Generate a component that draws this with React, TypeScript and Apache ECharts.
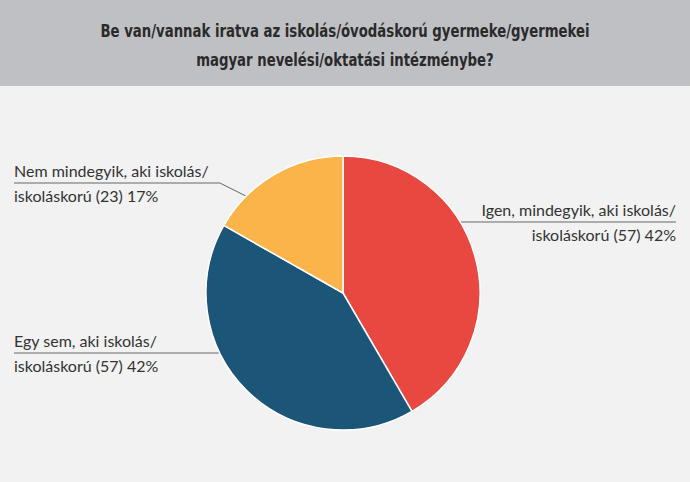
import React, { useEffect, useRef } from "react";
import * as echarts from "echarts";

const titleLines = [
  "Be van/vannak iratva az iskolás/óvodáskorú gyermeke/gyermekei",
  "magyar nevelési/oktatási intézménybe?",
];
const categories = [
  "Igen, mindegyik, aki iskolás/\niskoláskorú",
  "Egy sem, aki iskolás/\niskoláskorú",
  "Nem mindegyik, aki iskolás/\niskoláskorú",
];
const values = [57, 57, 23];
const colors = ["#e8483f", "#1b5578", "#fbb44a"];

// label layout (positions, not data)
const CX = 343;
const CY = 293;
const R = 137;
const labelLineY = [222, 353, 183];
const labelAnchorAngle = [58.8, 244, 315]; // degrees clockwise from top

export default function App() {
  const ref = useRef<HTMLDivElement>(null);
  useEffect(() => {
    if (!ref.current) return;
    const chart = echarts.init(ref.current, null, { renderer: "svg" });
    chart.setOption({
      animation: false,
      backgroundColor: "#f2f2f2",
      graphic: [
        {
          type: "rect",
          shape: { x: 0, y: 0, width: 690, height: 86 },
          style: { fill: "#bfc0c3" },
          z: -1,
        },
        {
          type: "text",
          x: 345,
          y: 45,
          scaleX: 0.82,
          style: {
            text: titleLines.join("\n"),
            fill: "#2a2a2a",
            font: "bold 18px 'DejaVu Sans Condensed', 'Liberation Sans Narrow', sans-serif",
            lineHeight: 29,
            align: "center",
            verticalAlign: "middle",
          },
        },
      ],
      series: [
        {
          type: "pie",
          center: [CX, CY],
          radius: R,
          startAngle: 90,
          clockwise: true,
          percentPrecision: 2,
          itemStyle: { borderColor: "#ffffff", borderWidth: 1.5 },
          label: {
            show: true,
            position: "outer",
            alignTo: "edge",
            edgeDistance: 14,
            overflow: "none",
            formatter: (p: any) => `${p.name} (${p.value}) ${Math.round(p.percent)}%`,
            color: "#333333",
            fontFamily: "Lato, 'Noto Sans', sans-serif",
            fontSize: 16,
            lineHeight: 25,
            verticalAlign: "middle",
          },
          labelLine: {
            show: true,
            length: 10,
            length2: 10,
            lineStyle: { color: "#666666", width: 1 },
          },
          labelLayout: (params: any) => {
            const i = params.dataIndex;
            const y = labelLineY[i];
            const a = (labelAnchorAngle[i] * Math.PI) / 180;
            const ax = CX + R * Math.sin(a);
            const ay = CY - R * Math.cos(a);
            const isLeft = ax < CX;
            const kneeX = ax + (isLeft ? -1 : 1) * Math.abs(ay - y) * 2;
            const lr = params.labelRect;
            const endX = isLeft ? lr.x : lr.x + lr.width;
            return {
              y,
              labelLinePoints: [
                [ax, ay],
                [kneeX, y],
                [endX, y],
              ],
            };
          },
          data: categories.map((name, i) => ({
            name,
            value: values[i],
            itemStyle: { color: colors[i] },
          })),
        },
      ],
    });
    return () => chart.dispose();
  }, []);
  return (
    <div
      ref={ref}
      style={{ position: "fixed", left: 0, top: 0, width: 690, height: 482 }}
    />
  );
}
